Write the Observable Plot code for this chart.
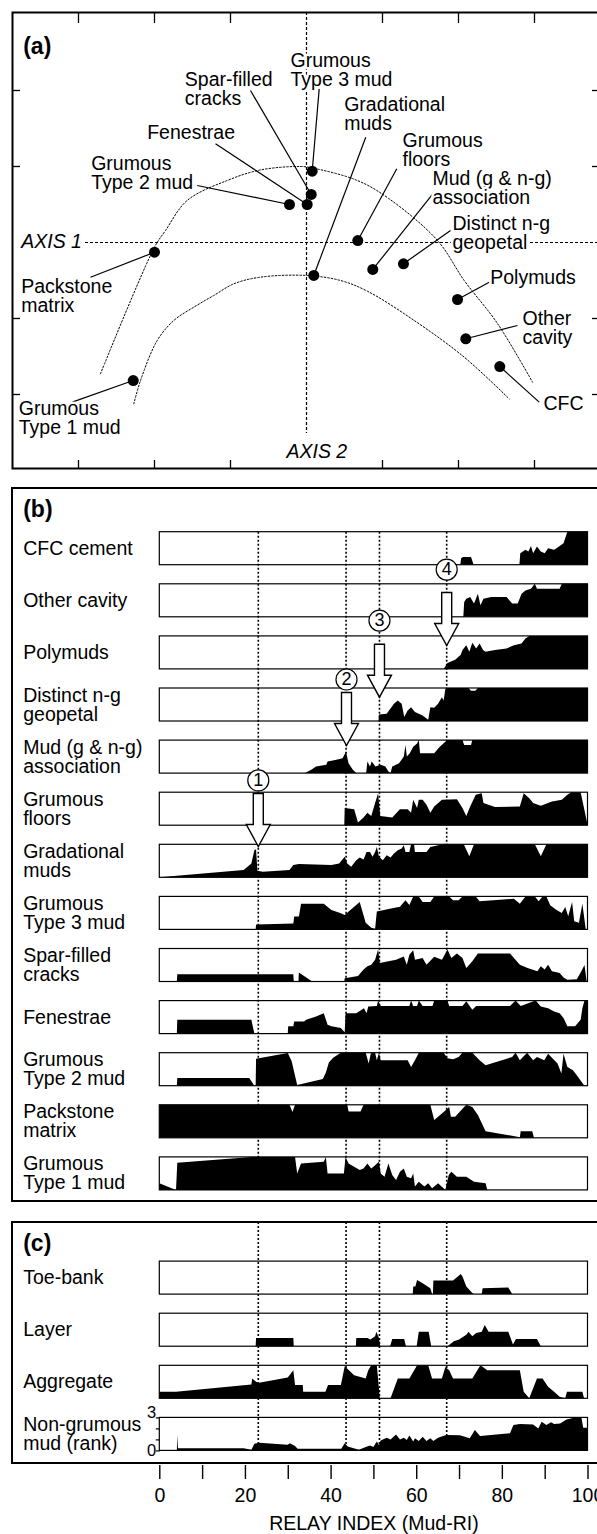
<!DOCTYPE html>
<html><head><meta charset="utf-8">
<script src="https://cdn.jsdelivr.net/npm/d3@7"></script>
<script src="https://cdn.jsdelivr.net/npm/@observablehq/plot@0.6"></script>
<style>
body{margin:0;background:#fff;}
#fig{position:relative;width:597px;height:1534px;overflow:hidden;background:#fff;font-family:"Liberation Sans",Arial,Helvetica,sans-serif;}
#fig svg{display:block;position:absolute;left:0;}
.panel{position:absolute;border:2px solid #000;box-sizing:border-box;pointer-events:none;}
</style></head><body><div id="fig"></div>
<script>
// ---------- Panel (a): ordination ----------
const ordNames = ["Grumous\nType 2 mud","Fenestrae","Spar-filled\ncracks","Grumous\nType 3 mud","Gradational\nmuds","Grumous\nfloors","Mud (g & n-g)\nassociation","Distinct n-g\ngeopetal","Polymuds","Other\ncavity","CFC","Packstone\nmatrix","Grumous\nType 1 mud"];
const axis1Score = [-0.224,0.009,0.062,0.075,0.096,0.675,0.872,1.276,1.987,2.096,2.543,-2.000,-2.280];
const axis2Score = [0.500,0.500,0.632,0.938,-0.434,0.026,-0.355,-0.280,-0.750,-1.267,-1.632,-0.128,-1.816];
const labelX  = [-2.833,-2.096,-1.601,-0.211,0.496,1.263,1.658,1.921,2.417,2.842,3.118,-3.754,-3.786];
const labelY  = [0.707,1.364,1.803,2.053,1.483,1.004,0.509,-0.083,-0.543,-1.333,-2.201,-0.917,-2.526];
const leaderX = [-1.438,-1.197,-0.737,0.167,0.780,1.188,1.680,1.895,2.404,2.776,3.062,-2.842,-3.083];
const leaderY = [0.750,1.299,2.000,2.022,1.386,0.970,0.662,0.158,-0.522,-1.092,-2.101,-0.457,-2.101];
const upperArc = [[-2.711,-1.728],[-2.0,-0.062],[-1.855,0.158],[-1.570,0.553],[-1.043,0.816],[-0.6,0.956],[-0.079,1.0],[0.079,0.98],[0.67,0.816],[1.08,0.58],[1.724,0.026],[2.075,-0.5],[2.513,-1.066],[2.974,-1.838]];
const lowerArc = [[-2.272,-2.122],[-2.184,-1.816],[-1.964,-1.289],[-1.746,-1.026],[-1.483,-0.851],[-1.220,-0.697],[-0.957,-0.544],[-0.605,-0.456],[0.009,-0.434],[0.447,-0.5],[0.8,-0.64],[1.417,-1.026],[2.075,-1.509],[2.667,-2.057]];
const axisTickValues = [-3,-2,-1,1,2,3];
const axisYTickValues = [-2,-1,1,2];
const axisNames = ["AXIS 1","AXIS 2"];
const axisNameX = [-3.754,-0.263];
const axisNameY = [-0.066,-2.836];

// ---------- Panels (b) & (c): relay index profiles ----------
const cfcCement = [[0,0],[70.3,0],[70.5,0.2],[71,0.23],[72.8,0.23],[73.4,0],[84.1,0],[84.3,0.35],[85.5,0.45],[86.2,0.4],[86.8,0.57],[87.3,0.35],[88.2,0.55],[89.1,0.4],[90,0.35],[90.8,0.5],[92.2,0.45],[93.1,0.53],[94.4,0.65],[95.3,1],[100,1]];
const otherCavity = [[0,0],[71,0],[71.2,0.45],[71.7,0.55],[72.6,0.6],[73.5,0.4],[74.4,0.7],[75,0.35],[75.7,0.55],[77.5,0.6],[81.1,0.6],[82.4,0.4],[83.7,0.4],[84.6,0.7],[85.5,0.8],[86.8,0.85],[87.7,1],[88.2,0.85],[93.5,0.85],[94,1],[100,1]];
const polymuds = [[0,0],[66.4,0],[67.3,0.18],[69.1,0.28],[70.4,0.43],[70.8,0.57],[71.7,0.72],[72.4,0.52],[73.1,0.79],[74,0.62],[74.8,0.77],[75.6,0.57],[76.2,0.52],[78.4,0.57],[81.1,0.62],[82.8,0.72],[84.6,0.77],[85.5,0.92],[86.4,1],[100,1]];
const distinctNg = [[0,0],[51.2,0],[51.3,0.2],[53.1,0.22],[54.8,0.52],[55.7,0.62],[56.6,0.52],[57.2,0.12],[58,0.32],[58.8,0.42],[59.7,0.27],[60.6,0.22],[61.5,0.17],[62.8,0.04],[63.3,0.42],[64.2,0.4],[65.1,0.52],[66,0.72],[66.4,0.62],[66.8,0.97],[67.5,1],[72.2,1],[72.8,0.92],[73.8,0.92],[74.4,1],[100,1]];
const mudAssoc = [[0,0],[34,0],[35.5,0.1],[36.6,0.2],[39,0.25],[39.3,0.35],[41.1,0.4],[42.8,0.45],[43.6,0.65],[44.2,0.3],[45.2,0.1],[46,0],[48.3,0],[48.6,0.35],[49.2,0.2],[49.6,0.35],[50.5,0.2],[51.7,0.25],[52.8,0.2],[53.5,0.05],[54,0],[54.4,0.2],[56,0.3],[57.1,0.5],[57.5,0.85],[57.8,0.5],[58.5,0.6],[59.3,0.8],[60.2,0.9],[60.6,1],[60.9,0.6],[64.2,0.6],[65.5,0.8],[66.8,0.95],[67.3,1],[70.8,1],[71.2,0.85],[72.8,0.85],[73.1,1],[100,1]];
const grumousFloors = [[0,0],[43.2,0],[43.3,0.52],[45.5,0.48],[46.4,0.08],[47.7,0.23],[48.6,0.38],[49.5,0.28],[50.4,0.67],[51.1,0.97],[51.6,0.28],[54.4,0.23],[56.2,0.48],[58,0.48],[58.8,0.38],[59.3,0.77],[60.2,0.52],[60.6,0.77],[61.5,0.77],[62.4,0.62],[63.3,0.38],[64.2,0.57],[66,0.77],[69.5,0.79],[70.8,0.52],[71.7,0.28],[72.6,0.57],[73.9,0.92],[75.3,0.97],[75.7,0.67],[78.4,0.55],[84.2,0.57],[85.1,0.97],[86.4,0.82],[87.3,0.67],[89.1,0.59],[91.7,0.72],[94,0.77],[95.3,0.92],[96.2,1],[98.4,1],[100,0.02]];
const gradationalMuds = [[0,0],[19.7,0.22],[21.5,0.42],[22.2,0.82],[22.6,0.85],[22.9,0.2],[24.2,0.17],[30.4,0.22],[31.3,0.37],[32.6,0.4],[40.2,0.37],[42,0.42],[43.3,0.62],[43.9,0.42],[44.8,0.32],[46,0.52],[46.8,0.6],[47.7,0.54],[48.4,0.77],[49.2,0.77],[49.8,0.62],[50.4,0.77],[50.8,0.92],[51.3,0.62],[52.2,0.52],[53.1,0.67],[54,0.6],[54.8,0.72],[55.7,0.82],[56.6,0.87],[57.1,0.97],[57.5,0.77],[58.4,0.77],[58.8,1],[59.5,1],[59.7,0.77],[62.4,0.77],[63.3,0.92],[65.1,0.97],[66.4,1],[71.1,1],[72.4,0.64],[73.5,1],[87.7,1],[89.1,0.64],[90.4,1],[100,1]];
const grumousT3 = [[0,0],[22.5,0],[22.6,0.15],[31.3,0.18],[31.5,0.39],[32.6,0.39],[33.1,0.78],[38.4,0.78],[40.2,0.59],[42.4,0.49],[43.3,0.44],[45.1,0.64],[46.8,0.83],[48.2,0.2],[49.5,0.05],[50.4,0.02],[50.8,0.54],[54.4,0.64],[56.2,0.69],[57.5,0.88],[58.4,0.74],[59.3,1],[60.6,1],[61.5,0.83],[63.3,0.83],[64.2,1],[67.7,1],[68.6,0.88],[69.9,0.88],[70.8,1],[73.9,1],[74.8,0.85],[82.8,0.93],[84.2,0.78],[85.5,1],[87.7,1],[88.6,0.85],[89.5,1],[90.4,1],[91.3,0.73],[92.6,0.6],[94,0.5],[94.8,0.68],[95.5,0.4],[96.4,0.83],[96.9,0.25],[98,0.2],[98.8,0.78],[99.6,0],[100,0]];
const sparCracks = [[0,0],[4.1,0],[4.2,0.22],[31.3,0.22],[31.4,0],[32.5,0],[32.6,0.27],[35.7,0],[43.2,0],[43.3,0.1],[46.4,0.17],[47.7,0.36],[48.6,0.46],[49.5,0.51],[50.4,0.66],[51.1,0.97],[51.5,0.56],[53.5,0.61],[55.3,0.66],[57.1,0.76],[57.8,0.51],[58.4,0.81],[59.3,0.95],[59.7,0.66],[61.5,0.71],[62.4,0.51],[64.2,0.75],[66,0.66],[67.3,0.97],[68.2,0.71],[69.5,0.85],[70.8,0.71],[71.7,0.41],[73.1,0.61],[74.4,0.85],[81.9,0.85],[84.2,0.51],[86,0.41],[88.3,0.31],[89.1,0.46],[90,0.36],[90.8,0.51],[91.7,0.31],[93.5,0.26],[94.4,0.12],[95.3,0.05],[97.5,0.07],[98.4,0.27],[99.3,0.5],[99.8,0],[100,0]];
const fenestrae = [[0,0],[4.1,0],[4.2,0.42],[21.5,0.42],[22.2,0],[30,0],[30.1,0.22],[31.3,0.22],[31.5,0.37],[33.8,0.37],[34.3,0.42],[36.6,0.52],[38.4,0.62],[39.3,0.27],[40.2,0.22],[42.4,0.17],[43.3,0.04],[43.5,0.62],[46,0.62],[47.8,0.77],[48.4,0.62],[48.8,0.82],[50.8,0.84],[51.1,1],[51.7,0.84],[58.4,0.84],[58.8,1],[59.3,0.84],[60.2,0.84],[60.6,1],[61.5,0.84],[63.8,0.84],[64.2,1],[67.3,1],[67.7,0.84],[70.8,0.84],[71.7,0.98],[73.1,0.72],[74,0.84],[81.9,0.84],[83.2,1],[84.4,0.84],[87.9,1],[89.1,0.82],[90.8,0.77],[92.2,0.67],[93.5,0.62],[94.4,0.47],[95.3,0.22],[97.1,0.22],[98.4,0.42],[98.8,0.77],[99.3,1],[100,1]];
const grumousT2 = [[0,0],[4.1,0],[4.2,0.23],[21,0.23],[22.2,0],[22.5,0],[22.6,0.82],[30,0.99],[30.9,0.75],[32.2,0.02],[38.2,0.2],[38.9,0.4],[39.6,0.7],[40.6,0.85],[42.2,0.98],[43.3,1],[48.2,1],[48.9,0.67],[49.4,0.98],[50.4,1],[50.8,0.77],[51.3,1],[51.7,0.77],[58,0.77],[58.8,0.57],[59.7,0.77],[60.6,1],[66.4,1],[67.3,0.83],[68.6,0.8],[69.9,0.87],[70.8,1],[73.1,1],[74.8,0.77],[76.2,0.62],[80,0.77],[82.4,0.87],[83.2,1],[84.2,0.77],[85.9,1],[87.3,0.77],[88.2,0.87],[89.9,0.77],[90.8,0.97],[93,0.67],[93.9,0.37],[94.4,0.97],[95.3,0.57],[96.6,0.47],[97.5,0.32],[98.8,0.08],[99.3,0],[100,0]];
const packstoneMatrix = [[0,1],[30.4,1],[31.1,0.78],[31.7,1],[43.9,1],[44.2,0.8],[47,0.8],[47.7,1],[63.3,1],[64.2,0.54],[65.1,0.64],[66.4,0.78],[67.7,0.93],[68.1,0.64],[69.1,0.64],[70.8,0.88],[71.7,1],[73.1,0.93],[74.4,0.69],[76.2,0.2],[84.2,0.02],[84.4,0.2],[87.1,0.2],[87.5,0],[100,0]];
const grumousT1 = [[0,0.2],[3.9,0],[4.2,0.82],[21.5,1],[31.7,1],[32.2,0.5],[33.1,0.8],[38.4,0.85],[38.9,1],[39.3,0.5],[43.1,0.5],[43.5,1],[44.2,0.8],[45.5,0.7],[46.8,0.6],[47.7,0.65],[48.6,0.8],[49.5,0.65],[50.4,0.75],[51.3,0.85],[51.7,0.5],[52.6,0.4],[53.5,0.8],[54.4,0.45],[55.3,0.3],[56.2,0.55],[57.1,0.65],[57.8,0.4],[58.8,0.35],[59.3,0.5],[59.7,0.1],[60.6,0.25],[61.9,0.1],[62.8,0.2],[63.7,0.05],[65.1,0.2],[66.8,0],[67.6,0.45],[68.2,0.55],[69.5,0.4],[71.7,0.4],[73.5,0.25],[76.2,0.2],[76.6,0],[100,0]];
const toeBank = [[0,0],[59.2,0],[59.3,0.23],[59.8,0.23],[60.2,0.43],[61.5,0.33],[63.3,0.18],[63.7,0],[63.9,0],[64,0.41],[68.6,0.41],[70.4,0.61],[70.8,0.53],[71.7,0.23],[73.1,0.03],[73.5,0],[75.3,0],[75.5,0.18],[81.5,0.2],[82.4,0],[100,0]];
const layer = [[0,0],[22.5,0],[22.6,0.25],[31.3,0.25],[31.4,0],[45.9,0],[46,0.25],[48.6,0.25],[49.3,0.2],[50.4,0.3],[50.7,0.44],[51.3,0.25],[51.6,0],[53.9,0],[54.4,0.22],[57.2,0.22],[57.6,0],[60.1,0],[60.6,0.44],[62.9,0.44],[63.5,0],[67.3,0],[68.8,0.15],[70,0.2],[71.7,0.35],[72.2,0.44],[73.1,0.3],[74,0.4],[75.3,0.44],[76,0.64],[76.9,0.44],[81.5,0.44],[82.6,0.05],[83.3,0.22],[88.2,0.22],[89.1,0],[100,0]];
const aggregate = [[0,0.2],[3.9,0.2],[21.5,0.42],[21.7,0.6],[22.6,0.5],[23.3,0.47],[30,0.63],[31.3,0.85],[31.7,0.4],[33.5,0.4],[33.6,0.2],[38.8,0.2],[39.4,0.4],[42.4,0.4],[43.3,0.97],[45.5,0.7],[48.2,0.6],[48.8,0.85],[49.5,1],[50.8,1],[51.5,0],[54,0],[55.7,0.6],[58.4,0.6],[60.2,1],[62.8,1],[63.7,0.6],[66,0.6],[66.8,0.95],[67.7,0.85],[68.6,0.6],[73.1,0.6],[75,1],[76.6,0.85],[84.2,0.85],[85.1,0.2],[86.4,0],[88.2,0.6],[89.5,0.6],[90.8,0.35],[92.2,0.2],[93.5,0.05],[94.8,0],[95.2,0.2],[98.8,0.2],[99.2,0],[100,0]];
const nonGrumousRank = [[0,0],[4.1,0],[4.2,1.4],[4.35,0.2],[19.7,0.2],[21.5,0.05],[22.2,0.6],[23.3,0.7],[30,0.52],[30.5,0.65],[31.7,0.4],[32.3,0.15],[42.5,0.15],[43.3,0.65],[44,0.35],[46,0.12],[46.6,0.05],[48.2,0.3],[49.2,0.45],[50,0.3],[50.8,0.8],[51.3,0.5],[51.7,0.9],[53.1,1.15],[54,1.0],[55.3,1.45],[56.2,1.0],[57.1,1.15],[57.8,0.95],[58.4,1.35],[59.3,0.8],[59.7,1.1],[60.6,0.85],[61.5,1.25],[62.4,0.85],[63.3,1.1],[64,0.85],[65.1,1.15],[66.3,1.3],[67,1.4],[70.2,1.38],[72.5,1.1],[73.7,1.85],[74.9,1.3],[81.9,1.55],[82.7,2.3],[84.2,2.4],[87.3,2.35],[88.5,2.0],[89.3,2.6],[90.4,2.3],[91.5,2.55],[92.2,2.4],[93.6,2.45],[95.1,2.8],[97.1,3.0],[98.6,2.95],[99,2.05],[100,2.05]];

const stripNames = ["CFC cement","Other cavity","Polymuds","Distinct n-g\ngeopetal","Mud (g & n-g)\nassociation","Grumous\nfloors","Gradational\nmuds","Grumous\nType 3 mud","Spar-filled\ncracks","Fenestrae","Grumous\nType 2 mud","Packstone\nmatrix","Grumous\nType 1 mud","Toe-bank","Layer","Aggregate","Non-grumous\nmud (rank)"];
const stripSeries = [cfcCement,otherCavity,polymuds,distinctNg,mudAssoc,grumousFloors,gradationalMuds,grumousT3,sparCracks,fenestrae,grumousT2,packstoneMatrix,grumousT1,toeBank,layer,aggregate,nonGrumousRank];
const stripRow = [0,1,2,3,4,5,6,7,8,9,10,11,12,14,15,16,17];
const stripMax = [1,1,1,1,1,1,1,1,1,1,1,1,1,1,1,1,3];
const rankTicks = [0,1,2,3];
const rankLabels = ["0","3"];

const thresholdRI = [23,43.5,51.3,67];
const arrowNumber = ["1","2","3","4"];
const arrowRI = [23,43.6,51.3,67];
const arrowTipRow = [6.033,4.094,3.167,2.175];
const arrowCircleRow = [4.765,2.827,1.697,0.717];
const xTickValues = d3.range(0,101,10);

// ---------- layout constants (pixels) ----------
const FONT = '"Liberation Sans", Arial, Helvetica, sans-serif';
const PITCH = 52.1, STRIP = 33, H = STRIP / PITCH;
const B_TOP = 478, B_H = 1534 - B_TOP;
const ROW0 = 531.7 - B_TOP;           // pixel of row 0 top inside svg B
const d0 = -ROW0 / PITCH;
const cTopRow = (1222 - 531.7) / PITCH;

const fig = document.getElementById("fig");

// ---------- Plot A ----------
const ordData = ordNames.map((name,i)=>({name,x:axis1Score[i],y:axis2Score[i],lx:labelX[i],ly:labelY[i],kx:leaderX[i],ky:leaderY[i]}));
const axisLab = axisNames.map((t,i)=>({t,x:axisNameX[i],y:axisNameY[i]}));
const plotA = Plot.plot({
  width:597, height:478, marginTop:12, marginLeft:12, marginRight:-2, marginBottom:10,
  x:{domain:[(12-306)/76,(599-306)/76], axis:null},
  y:{domain:[(242-468)/76,(242-12)/76], axis:null},
  style:{fontFamily:FONT, fontSize:"19.5px", color:"black", background:"white", overflow:"visible"},
  marks:[
    Plot.line(upperArc,{x:d=>d[0],y:d=>d[1],curve:"catmull-rom",stroke:"black",strokeWidth:1,strokeDasharray:"1.6,1.9"}),
    Plot.line(lowerArc,{x:d=>d[0],y:d=>d[1],curve:"catmull-rom",stroke:"black",strokeWidth:1,strokeDasharray:"1.6,1.9"}),
    Plot.ruleY([0],{insetLeft:73,stroke:"black",strokeWidth:1.2,strokeDasharray:"3,2"}),
    Plot.ruleX([0],{insetBottom:35,stroke:"black",strokeWidth:1.2,strokeDasharray:"3,2"}),
    Plot.ruleX(axisTickValues,{insetBottom:445,stroke:"black",strokeWidth:1.3}),
    Plot.ruleX(axisTickValues,{insetTop:448,stroke:"black",strokeWidth:1.3}),
    Plot.ruleY(axisYTickValues,{insetRight:579,stroke:"black",strokeWidth:1.3}),
    Plot.ruleY(axisYTickValues,{insetLeft:580,stroke:"black",strokeWidth:1.3}),
    Plot.link(ordData,{x1:"kx",y1:"ky",x2:"x",y2:"y",stroke:"black",strokeWidth:1.2}),
    Plot.text(ordData,{x:"lx",y:"ly",text:"name",textAnchor:"start",lineAnchor:"bottom",lineHeight:0.975,fill:"black",stroke:"white",strokeWidth:5}),
    Plot.dot(ordData,{x:"x",y:"y",r:5.5,fill:"black"}),
    Plot.text(axisLab,{x:"x",y:"y",text:"t",textAnchor:"start",lineAnchor:"bottom",fontStyle:"italic",fill:"black"}),
    Plot.frame({stroke:"black",strokeWidth:2}),
    Plot.text(["(a)"],{frameAnchor:"top-left",dx:10.7,dy:41.3,lineAnchor:"bottom",fontWeight:"bold",fontSize:23,fill:"black"})
  ]
});
plotA.style.top = "0px";
fig.appendChild(plotA);

// ---------- Plot B ----------
const strips = stripNames.map((name,i)=>({name,row:stripRow[i],series:stripSeries[i],max:stripMax[i]}));
const areaData = strips.flatMap(s=>s.series.map(([ri,v])=>({row:s.row,ri,v:v/s.max})));
const rankRow = strips.find(s=>s.max===3).row;
const arrows = arrowNumber.map((n,i)=>({n,ri:arrowRI[i],tip:arrowTipRow[i],circle:arrowCircleRow[i]}));
const blockArrow = {draw(ctx){
  ctx.moveTo(-5,-53); ctx.lineTo(5,-53); ctx.lineTo(5,-22); ctx.lineTo(12,-22);
  ctx.lineTo(0,0); ctx.lineTo(-12,-22); ctx.lineTo(-5,-22); ctx.closePath();
}};
const leftTick = {draw(ctx){ ctx.moveTo(-4,0); ctx.lineTo(0,0); }};
const fmt = d => d % 20 === 0 ? String(d) : "";
const axisMarks = (typeof Plot.axisX === "function")
  ? [Plot.axisX({ticks:xTickValues,tickSize:14,tickPadding:9,tickFormat:fmt,label:null,stroke:"black",strokeWidth:1.4,fill:"black"})]
  : [];
const plotB = Plot.plot({
  width:597, height:B_H, marginTop:0, marginLeft:159.3, marginRight:9.5, marginBottom:B_H-(1465-B_TOP),
  x:{domain:[0,100], ticks:xTickValues, tickSize:14, tickPadding:9, tickFormat:fmt, label:null},
  y:{domain:[d0, d0 + B_H/PITCH], range:[0,B_H], axis:null},
  style:{fontFamily:FONT, fontSize:"19.5px", color:"black", background:"white", overflow:"visible"},
  marks:[
    Plot.areaY(areaData,{x:"ri",y1:d=>d.row+H,y2:d=>d.row+H*(1-d.v),z:"row",fill:"black",curve:"linear"}),
    Plot.rect(strips,{x1:()=>0,x2:()=>100,y1:d=>d.row,y2:d=>d.row+H,fill:"none",stroke:"black",strokeWidth:1.2}),
    Plot.ruleX(thresholdRI,{y1:()=>0,y2:()=>12+H,stroke:"black",strokeWidth:1.6,strokeDasharray:"2,2"}),
    Plot.ruleX(thresholdRI,{y1:()=>cTopRow,y2:()=>rankRow+H,stroke:"black",strokeWidth:1.6,strokeDasharray:"2,2"}),
    Plot.dot(arrows,{x:"ri",y:"tip",symbol:blockArrow,r:10,fill:"white",stroke:"black",strokeWidth:1.4}),
    Plot.dot(arrows,{x:"ri",y:"circle",r:10.5,fill:"white",stroke:"black",strokeWidth:1.2}),
    Plot.text(arrows,{x:"ri",y:"circle",text:"n",fontSize:18,lineAnchor:"middle",fill:"black"}),
    Plot.text(strips,{y:d=>d.row+H/2,text:"name",frameAnchor:"left",dx:-136.6,textAnchor:"start",lineAnchor:"middle",lineHeight:0.975,fill:"black"}),
    Plot.dot(rankTicks,{x:()=>0,y:d=>rankRow+H*(1-d/3),symbol:leftTick,stroke:"black",strokeWidth:1.2}),
    Plot.text([rankLabels[1]],{x:()=>0,y:()=>rankRow,dx:-3.5,textAnchor:"end",lineAnchor:"bottom",fontSize:16.5,fill:"black"}),
    Plot.text([rankLabels[0]],{x:()=>0,y:()=>rankRow+H,dx:-3.5,textAnchor:"end",lineAnchor:"middle",fontSize:16.5,fill:"black"}),
    ...axisMarks,
    Plot.text(["RELAY INDEX (Mud-RI)"],{frameAnchor:"bottom",lineAnchor:"bottom",dy:64.3,fill:"black"}),
    Plot.text(["(b)"],{frameAnchor:"top-left",dx:-136.6,dy:516.7-B_TOP,lineAnchor:"bottom",fontWeight:"bold",fontSize:23,fill:"black"}),
    Plot.text(["(c)"],{frameAnchor:"top-left",dx:-136.6,dy:1250-B_TOP,lineAnchor:"bottom",fontWeight:"bold",fontSize:23,fill:"black"})
  ]
});
plotB.style.top = B_TOP + "px";
fig.appendChild(plotB);

// panel borders for (b) and (c)
[[487,1202],[1221,1464]].forEach(([t,b])=>{
  const d=document.createElement("div"); d.className="panel";
  d.style.left="11px"; d.style.top=t+"px"; d.style.width="600px"; d.style.height=(b-t)+"px";
  fig.appendChild(d);
});
</script></body></html>
